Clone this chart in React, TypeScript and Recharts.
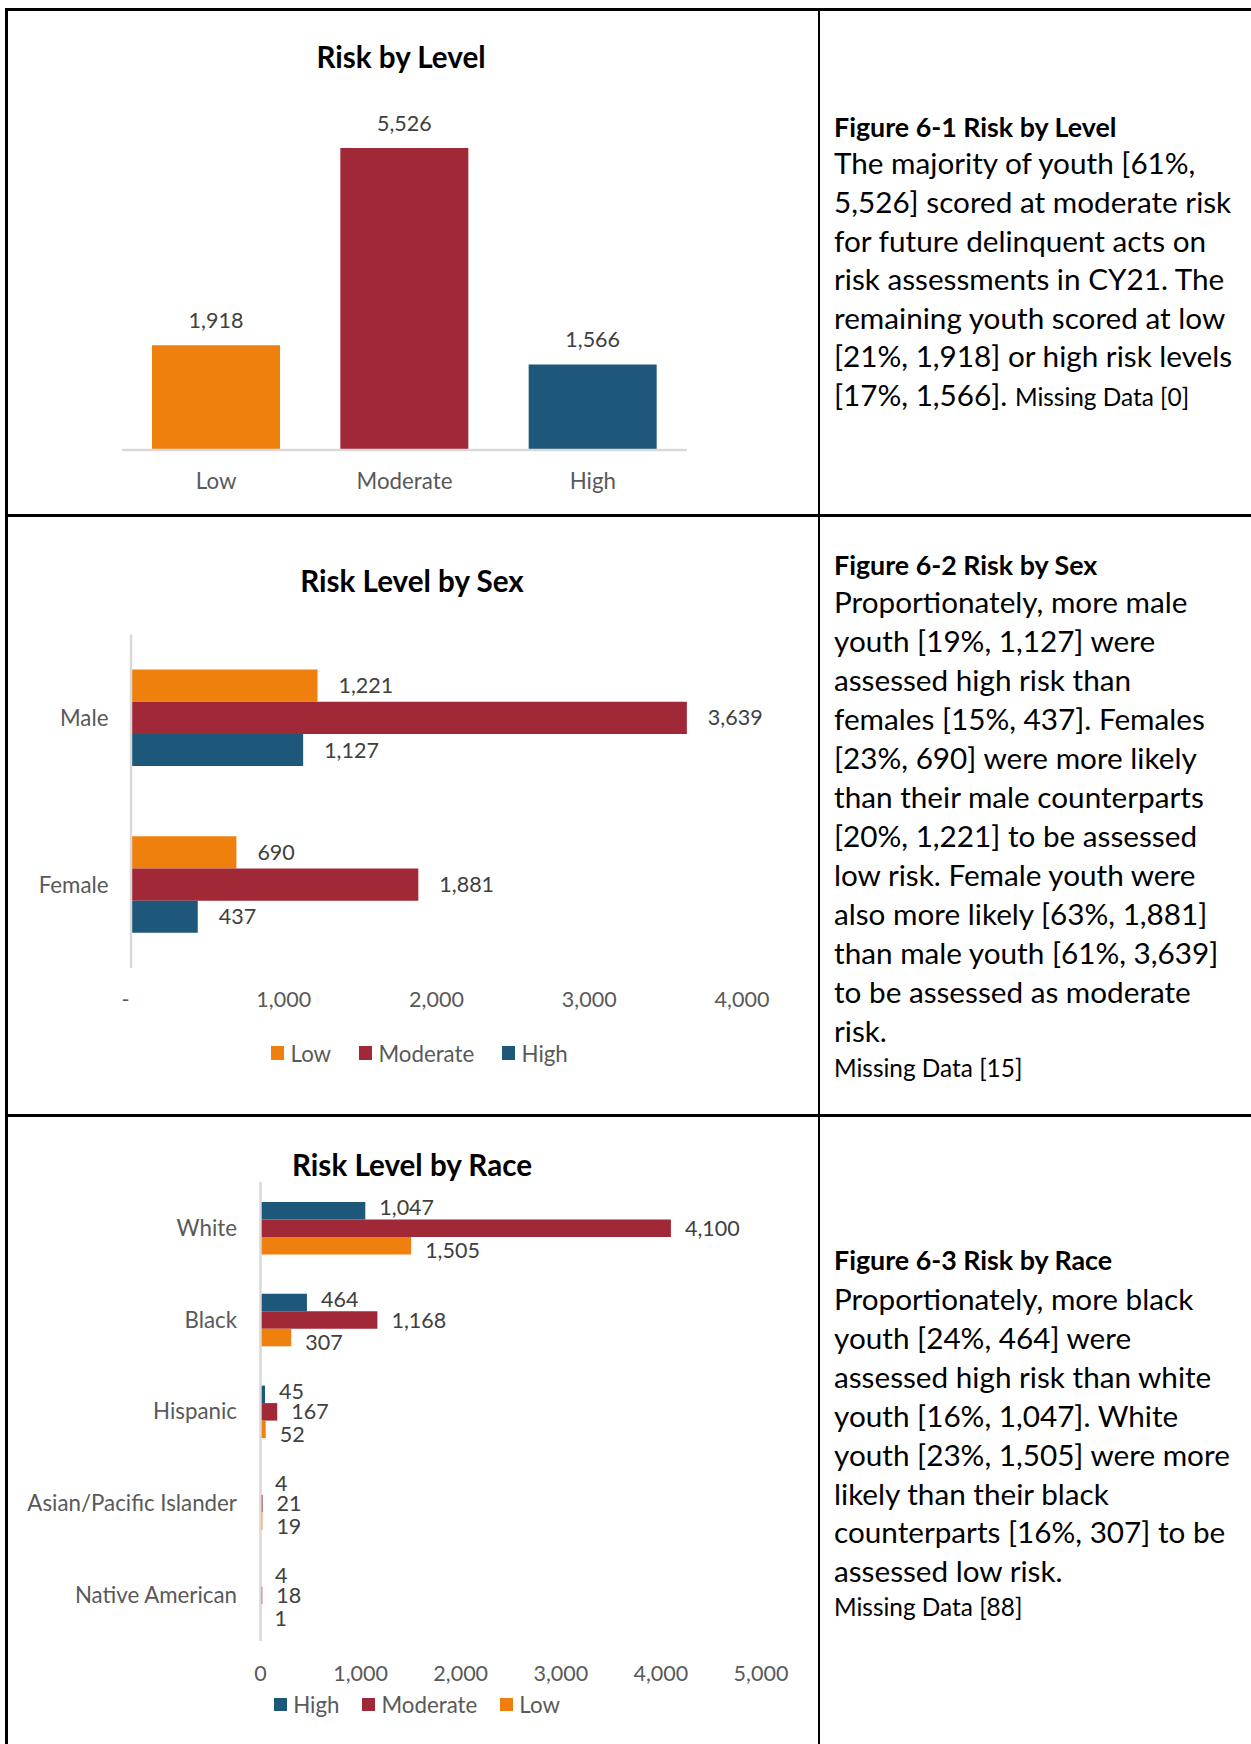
import React from 'react';
import { BarChart, Bar, XAxis, YAxis, Cell, LabelList, Legend } from 'recharts';

// ---------- data ----------
const levelCategories = ['Low', 'Moderate', 'High'];
const levelCounts = [1918, 5526, 1566];

const sexCategories = ['Male', 'Female'];
const sexSeries = ['Low', 'Moderate', 'High'];
const sexLow = [1221, 690];
const sexModerate = [3639, 1881];
const sexHigh = [1127, 437];
const sexTicks = [0, 1000, 2000, 3000, 4000];

const raceCategories = ['White', 'Black', 'Hispanic', 'Asian/Pacific Islander', 'Native American'];
const raceSeries = ['High', 'Moderate', 'Low'];
const raceHigh = [1047, 464, 45, 4, 4];
const raceModerate = [4100, 1168, 167, 21, 18];
const raceLow = [1505, 307, 52, 19, 1];
const raceTicks = [0, 1000, 2000, 3000, 4000, 5000];

const COLORS: Record<string, string> = { Low: '#F0800E', Moderate: '#A12837', High: '#1D5779' };

const FONT = "Lato, 'Open Sans', sans-serif";
const AXIS_GRAY = '#595959';
const LABEL_GRAY = '#404040';
const LINE_GRAY = '#D9D9D9';
const NUM_FS = 21.5;
const CAT_FS = 22.3;
const BODY_FS = 29.7;
const HEAD_FS = 26.8;
const SMALL_FS = 24.4;
const TITLE_FS = 29.6;

const levelData = levelCategories.map((c, i) => ({ category: c, count: levelCounts[i] }));
const sexData = sexCategories.map((c, i) => ({ category: c, Low: sexLow[i], Moderate: sexModerate[i], High: sexHigh[i] }));
const raceData = raceCategories.map((c, i) => ({ category: c, High: raceHigh[i], Moderate: raceModerate[i], Low: raceLow[i] }));

const fmt = (v: any) => Number(v).toLocaleString('en-US');

const NumTick = (props: any) => {
  const { x, y, payload, dashZero } = props;
  const v = payload.value;
  const isZeroDash = v === 0 && dashZero;
  return (
    <text x={x + (isZeroDash ? -5.5 : 0)} y={y} dy="0.71em" textAnchor="middle" fill={AXIS_GRAY} fontSize={NUM_FS} fontFamily={FONT}>
      {isZeroDash ? '-' : fmt(v)}
    </text>
  );
};

const rightLabel = (offset: number, shiftY: number) => (p: any) => {
  const vb = p.viewBox || {};
  const x = p.x ?? vb.x;
  const y = p.y ?? vb.y;
  const w = p.width ?? vb.width ?? 0;
  const h = p.height ?? vb.height ?? 0;
  if (x == null || y == null) return null;
  return (
    <text x={x + w + offset} y={y + h / 2 + shiftY} dy="0.355em" textAnchor="start" fill={LABEL_GRAY} fontSize={NUM_FS} fontFamily={FONT}>
      {fmt(p.value)}
    </text>
  );
};

const LegendContent = (props: any) => {
  const { payload, order, gap } = props;
  const items = [...(payload || [])].sort((a: any, b: any) => order.indexOf(a.value) - order.indexOf(b.value));
  return (
    <div style={{ display: 'flex', alignItems: 'center', fontFamily: FONT, fontSize: CAT_FS, color: AXIS_GRAY, height: 26, whiteSpace: 'nowrap' }}>
      {items.map((item: any) => (
        <div key={item.value} style={{ display: 'flex', alignItems: 'center', marginRight: gap }}>
          <span style={{ width: 13, height: 13.5, background: item.color, marginRight: 6.5, display: 'inline-block' }} />
          <span>{item.value}</span>
        </div>
      ))}
    </div>
  );
};

const Line = ({ cy, fs, bold, children }: any) => (
  <div
    style={{
      position: 'absolute',
      left: 834,
      top: cy - 0.66 * fs,
      fontSize: fs,
      lineHeight: `${1.2 * fs}px`,
      fontWeight: bold ? 700 : 400,
      whiteSpace: 'nowrap',
      color: '#000',
    }}
  >
    {children}
  </div>
);

const Title = ({ cx, cy, children }: any) => (
  <div
    style={{
      position: 'absolute',
      left: cx - 300,
      width: 600,
      top: cy - 0.66 * TITLE_FS,
      textAlign: 'center',
      fontSize: TITLE_FS,
      lineHeight: `${1.2 * TITLE_FS}px`,
      fontWeight: 700,
      color: '#000',
      whiteSpace: 'nowrap',
    }}
  >
    {children}
  </div>
);

const rule = (s: React.CSSProperties) => <div style={{ position: 'absolute', background: '#000', ...s }} />;

const cell1Lines = [
  'The majority of youth [61%,',
  '5,526] scored at moderate risk',
  'for future delinquent acts on',
  'risk assessments in CY21. The',
  'remaining youth scored at low',
  '[21%, 1,918] or high risk levels',
];
const cell2Lines = [
  'Proportionately, more male',
  'youth [19%, 1,127] were',
  'assessed high risk than',
  'females [15%, 437]. Females',
  '[23%, 690] were more likely',
  'than their male counterparts',
  '[20%, 1,221] to be assessed',
  'low risk. Female youth were',
  'also more likely [63%, 1,881]',
  'than male youth [61%, 3,639]',
  'to be assessed as moderate',
  'risk.',
];
const cell3Lines = [
  'Proportionately, more black',
  'youth [24%, 464] were',
  'assessed high risk than white',
  'youth [16%, 1,047]. White',
  'youth [23%, 1,505] were more',
  'likely than their black',
  'counterparts [16%, 307] to be',
  'assessed low risk.',
];

const raceLabelShift: Record<string, number> = { High: -3, Moderate: 0, Low: 5 };

export default function App() {
  const catTick = { fill: AXIS_GRAY, fontSize: CAT_FS, fontFamily: FONT };
  return (
    <div style={{ position: 'absolute', left: 0, top: 0, width: 1251, height: 1744, background: '#fff', overflow: 'hidden', fontFamily: FONT }}>
      {/* table rules */}
      {rule({ left: 5, top: 8, width: 2.5, height: 1736 })}
      {rule({ left: 5, top: 8, width: 1246, height: 2.5 })}
      {rule({ left: 817.5, top: 8, width: 2.5, height: 1736 })}
      {rule({ left: 5, top: 514, width: 1246, height: 2.5 })}
      {rule({ left: 5, top: 1114, width: 1246, height: 2.5 })}

      {/* Chart 1 */}
      <div style={{ position: 'absolute', left: 0, top: 0 }}>
        <BarChart width={819} height={515} data={levelData} margin={{ top: 122, right: 132, bottom: 25, left: 122 }}>
          <XAxis
            dataKey="category"
            height={40}
            interval={0}
            axisLine={{ stroke: LINE_GRAY, strokeWidth: 2.5 }}
            tickLine={false}
            tickMargin={17}
            tick={catTick}
          />
          <YAxis hide type="number" domain={[0, 6000]} />
          <Bar dataKey="count" barSize={128} isAnimationActive={false}>
            {levelData.map((d) => (
              <Cell key={d.category} fill={COLORS[d.category]} />
            ))}
            <LabelList dataKey="count" position="top" offset={17} formatter={fmt} fill={LABEL_GRAY} fontSize={NUM_FS} fontFamily={FONT} />
          </Bar>
        </BarChart>
      </div>
      <Title cx={401} cy={59}>Risk by Level</Title>

      {/* Chart 2 */}
      <div style={{ position: 'absolute', left: 0, top: 516 }}>
        <BarChart layout="vertical" width={819} height={598} data={sexData} barGap={0} margin={{ top: 118.5, right: 77, bottom: 106, left: 11 }}>
          <XAxis
            type="number"
            domain={[0, 4000]}
            ticks={sexTicks}
            interval={0}
            height={40}
            axisLine={false}
            tickLine={false}
            tickMargin={18}
            tick={(p: any) => <NumTick {...p} dashZero />}
          />
          <YAxis
            type="category"
            dataKey="category"
            width={120}
            axisLine={{ stroke: LINE_GRAY, strokeWidth: 2.5 }}
            tickLine={false}
            tickMargin={16.5}
            tick={catTick}
          />
          {sexSeries.map((k) => (
            <Bar key={k} dataKey={k} fill={COLORS[k]} barSize={32.2} isAnimationActive={false}>
              <LabelList dataKey={k} content={rightLabel(21, 0)} />
            </Bar>
          ))}
          <Legend
            layout="horizontal"
            verticalAlign="middle"
            align="center"
            wrapperStyle={{ top: 524, left: 271, width: 420, height: 26 }}
            content={(p: any) => <LegendContent {...p} order={sexSeries} gap={27.8} />}
          />
        </BarChart>
      </div>
      <Title cx={412} cy={583}>Risk Level by Sex</Title>

      {/* Chart 3 */}
      <div style={{ position: 'absolute', left: 0, top: 1116 }}>
        <BarChart layout="vertical" width={819} height={628} data={raceData} barGap={0} margin={{ top: 66, right: 58, bottom: 63, left: 20 }}>
          <XAxis
            type="number"
            domain={[0, 5000]}
            ticks={raceTicks}
            interval={0}
            height={40}
            axisLine={false}
            tickLine={false}
            tickMargin={18.6}
            tick={(p: any) => <NumTick {...p} />}
          />
          <YAxis
            type="category"
            dataKey="category"
            width={240.5}
            interval={0}
            axisLine={{ stroke: LINE_GRAY, strokeWidth: 2.5 }}
            tickLine={false}
            tickMargin={17.5}
            tick={catTick}
          />
          {raceSeries.map((k) => (
            <Bar key={k} dataKey={k} fill={COLORS[k]} barSize={17.5} isAnimationActive={false}>
              <LabelList dataKey={k} content={rightLabel(14, raceLabelShift[k])} />
            </Bar>
          ))}
          <Legend
            layout="horizontal"
            verticalAlign="middle"
            align="center"
            wrapperStyle={{ top: 575.4, left: 273.7, width: 420, height: 26 }}
            content={(p: any) => <LegendContent {...p} order={raceSeries} gap={22.5} />}
          />
        </BarChart>
      </div>
      <Title cx={412} cy={1167}>Risk Level by Race</Title>

      {/* Text cells */}
      <Line cy={128.3} fs={HEAD_FS} bold>Figure 6-1 Risk by Level</Line>
      {cell1Lines.map((t, i) => (
        <Line key={t} cy={165 + 38.6 * i} fs={BODY_FS}>{t}</Line>
      ))}
      <Line cy={165 + 38.6 * 6} fs={BODY_FS}>
        [17%, 1,566]. <span style={{ fontSize: SMALL_FS }}>Missing Data [0]</span>
      </Line>

      <Line cy={566.5} fs={HEAD_FS} bold>Figure 6-2 Risk by Sex</Line>
      {cell2Lines.map((t, i) => (
        <Line key={t} cy={604 + 39 * i} fs={BODY_FS}>{t}</Line>
      ))}
      <Line cy={1069.5} fs={SMALL_FS}>Missing Data [15]</Line>

      <Line cy={1261.7} fs={HEAD_FS} bold>Figure 6-3 Risk by Race</Line>
      {cell3Lines.map((t, i) => (
        <Line key={t} cy={1300.7 + 38.9 * i} fs={BODY_FS}>{t}</Line>
      ))}
      <Line cy={1608} fs={SMALL_FS}>Missing Data [88]</Line>
    </div>
  );
}
